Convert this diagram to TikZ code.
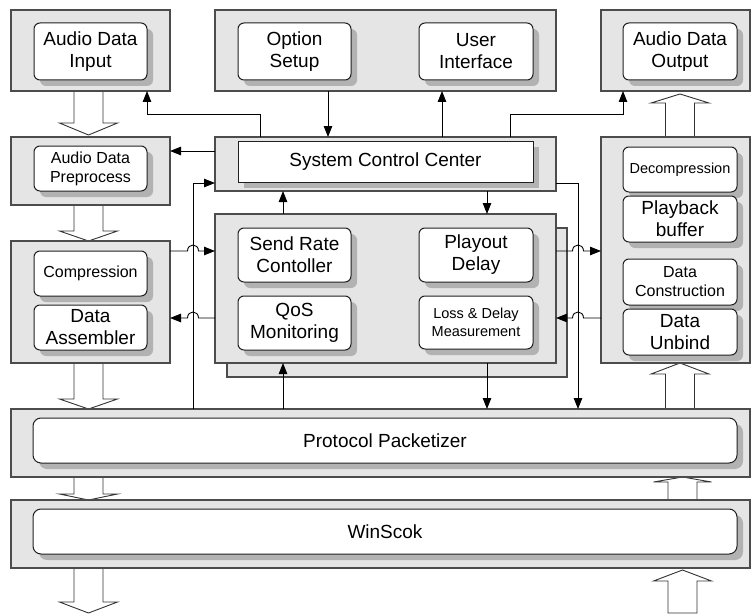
\documentclass[tikz,border=0pt]{standalone}
\usepackage{fontspec}
\setmainfont{Liberation Sans}
\usetikzlibrary{arrows.meta,shadows,calc}
\pgfdeclarelayer{bg}
\pgfsetlayers{bg,main}
\newcommand\fbig{\fontsize{19}{22}\selectfont}
\newcommand\fmid{\fontsize{16}{19}\selectfont}
\newcommand\fsml{\fontsize{14.5}{18}\selectfont}
% #1 style, #2 name, #3 x1, #4 y1, #5 x2, #6 y2, #7 text
\newcommand\mkbox[7]{\node[#1,minimum width={(#5-#3)*1pt},minimum height={(#6-#4)*1pt}] (#2) at (#3,#4) {#7};}
% hollow block arrow: #1 start, #2 tip, #3 head length
\newcommand\blockv[3]{\draw[block] let \p1=#1, \p2=#2, \n1={((\y2)-(\y1))/abs((\y2)-(\y1))}, \n2={(\y2)-\n1*#3pt} in
  ({\x1-14.5pt},\y1) -- ({\x1-14.5pt},{\n2*1pt}) -- ({\x1-29pt},{\n2*1pt}) -- (\x1,\y2) -- ({\x1+29pt},{\n2*1pt}) -- ({\x1+14.5pt},{\n2*1pt}) -- ({\x1+14.5pt},\y1) -- cycle;}
\begin{document}
\begin{tikzpicture}[x=1pt,y=-1pt,
  outer/.style={draw=black!70,fill=black!10,line width=1.1pt,inner sep=0pt,outer sep=0pt,anchor=north west},
  inner/.style={draw=black!88,fill=white,line width=1pt,rounded corners=6pt,inner sep=0pt,outer sep=0pt,anchor=north west,align=center,font=\fbig,
    drop shadow={shadow xshift=6pt,shadow yshift=-6pt,fill=black!30,opacity=1}},
  innersq/.style={inner,rounded corners=0pt},
  innerwide/.style={inner,rounded corners=8pt},
  arr/.style={draw=black,line width=0.9pt,-{Triangle[length=11pt,width=8.5pt]}},
  block/.style={draw=black!80,fill=white,line width=0.9pt,line join=miter}]
\useasboundingbox (0,0) rectangle (751,615);

% outer boxes
\mkbox{outer}{inbox}{11}{10}{170}{91}{}
\mkbox{outer}{optbox}{215}{10}{556}{91}{}
\mkbox{outer}{outbox}{601}{10}{750}{91}{}
\mkbox{outer}{prebox}{11}{137}{170}{205}{}
\mkbox{outer}{sccbox}{215}{137}{556}{191}{}
\mkbox{outer}{rbox}{601}{137}{750}{363}{}
\mkbox{outer}{cmpbox}{11}{241}{170}{363}{}
\mkbox{outer}{midshadow}{227}{228}{567}{377}{}
\mkbox{outer}{midbox}{215}{214}{556}{363}{}
\mkbox{outer}{ppbox}{11}{409}{750}{477}{}
\mkbox{outer}{wsbox}{11}{500}{750}{568}{}

% inner boxes
\mkbox{inner}{audin}{34}{23}{147}{80}{Audio Data\\Input}
\mkbox{inner}{optset}{238}{23}{351}{80}{Option\\Setup}
\mkbox{inner}{uif}{419}{23}{533}{80}{User\\Interface}
\mkbox{inner}{audout}{623}{23}{737}{80}{Audio Data\\Output}
\mkbox{inner,font=\fmid}{prep}{34}{146}{147}{191}{Audio Data\\Preprocess}
\mkbox{innersq}{scc}{238}{141}{533}{182}{System Control Center}
\mkbox{inner,font=\fsml}{decomp}{623}{147}{737}{192}{Decompression}
\mkbox{inner}{playb}{623}{196}{737}{242}{Playback\\buffer}
\mkbox{inner,font=\fmid}{dcons}{623}{259}{737}{305}{Data\\Construction}
\mkbox{inner}{dunb}{623}{309}{737}{355}{Data\\Unbind}
\mkbox{inner,font=\fmid}{comp}{34}{251}{147}{296}{Compression}
\mkbox{inner}{dasm}{34}{305}{147}{350}{Data\\Assembler}
\mkbox{inner}{srate}{238}{228}{351}{282}{Send Rate\\Contoller}
\mkbox{inner}{qos}{238}{296}{351}{350}{QoS\\Monitoring}
\mkbox{inner}{pdel}{419}{228}{533}{282}{Playout\\Delay}
\mkbox{inner,font=\fsml}{loss}{419}{296}{533}{349}{Loss \& Delay\\Measurement}
\mkbox{innerwide}{proto}{33}{418}{737}{463}{Protocol Packetizer}
\mkbox{innerwide}{wins}{33}{509}{737}{554}{WinScok}

% helper coordinates
\coordinate (c1) at (260,114);
\coordinate (c2) at (328,100);
\coordinate (c3) at (442,100);
\coordinate (c4) at (510,114);
\coordinate (c5) at (190,151);
\coordinate (c6) at (193,183);
\coordinate (c7) at (283,300);
\coordinate (c8) at (487,300);
\coordinate (c9) at (578,183);
\coordinate (h1) at (0,251);
\coordinate (h2) at (0,318);
\coordinate (lc) at (88.5,0);
\coordinate (rc) at (680,0);
\coordinate (rc2) at (682.5,0);
\coordinate (lend) at (88.5,613);
\coordinate (rend) at (682.5,613);

% thin connectors
\draw[arr] (sccbox.north -| c1) -- (c1) -| (inbox.south -| audin.east);
\draw[arr] (optbox.south -| c2) -- (sccbox.north -| c2);
\draw[arr] (sccbox.north -| c3) -- (optbox.south -| c3);
\draw[arr] (sccbox.north -| c4) -- (c4) -| (outbox.south -| audout.west);
\draw[arr] (sccbox.west |- c5) -- (prebox.east |- c5);
\draw[arr] (ppbox.north -| c6) -- (c6) -- (sccbox.west |- c6);
\draw[arr] (midbox.north -| c7) -- (sccbox.south -| c7);
\draw[arr] (sccbox.south -| c8) -- (midbox.north -| c8);
\draw[arr] (sccbox.east |- c9) -- (c9) -- (ppbox.north -| c9);
\draw[arr] (midbox.south -| c8) -- (ppbox.north -| c8);
\draw[arr] (ppbox.north -| c7) -- (midbox.south -| c7);

% connectors with hops
\draw[arr] (cmpbox.east |- h1) -- ($(c6 |- h1)+(-5.5,0)$) .. controls +(0,-8) and +(0,-8) .. ($(c6 |- h1)+(5.5,0)$) -- (midbox.west |- h1);
\draw[arr] (midbox.west |- h2) -- ($(c6 |- h2)+(5.5,0)$) .. controls +(0,-8) and +(0,-8) .. ($(c6 |- h2)+(-5.5,0)$) -- (cmpbox.east |- h2);
\draw[arr] (midbox.east |- h1) -- ($(c9 |- h1)+(-5.5,0)$) .. controls +(0,-8) and +(0,-8) .. ($(c9 |- h1)+(5.5,0)$) -- (rbox.west |- h1);
\draw[arr] (rbox.west |- h2) -- ($(c9 |- h2)+(5.5,0)$) .. controls +(0,-8) and +(0,-8) .. ($(c9 |- h2)+(-5.5,0)$) -- (midbox.east |- h2);

% hollow block arrows
\begin{pgfonlayer}{bg}
\blockv{(inbox.south -| lc)}{($(prebox.north -| lc)+(0,-2)$)}{12}
\blockv{(prebox.south -| lc)}{(cmpbox.north -| lc)}{10}
\blockv{(cmpbox.south -| lc)}{(ppbox.north -| lc)}{10}
\blockv{(ppbox.south -| lc)}{(wsbox.north -| lc)}{6}
\blockv{(wsbox.south -| lc)}{(lend)}{11}
\blockv{(rbox.north -| rc)}{($(outbox.south -| rc)+(0,3)$)}{9}
\blockv{(ppbox.north -| rc)}{(rbox.south -| rc)}{11}
\blockv{(wsbox.north -| rc2)}{(ppbox.south -| rc2)}{5}
\blockv{(rend)}{($(wsbox.south -| rc2)+(0,2)$)}{11}
\end{pgfonlayer}
\end{tikzpicture}
\end{document}
